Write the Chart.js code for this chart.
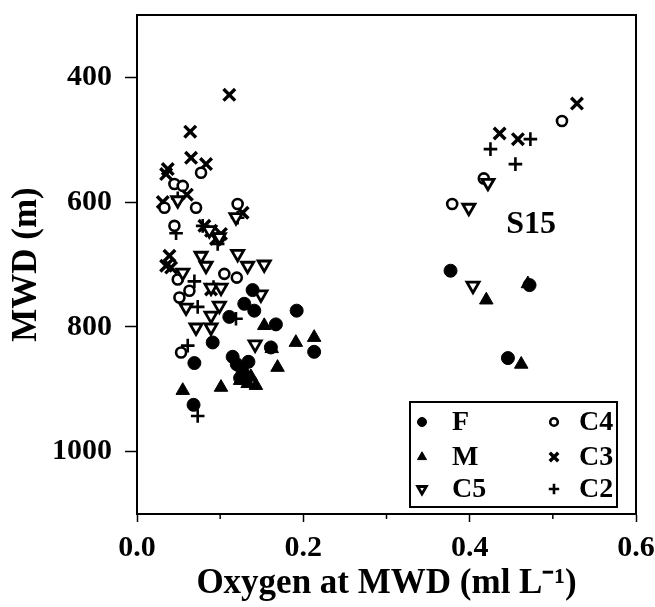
<!DOCTYPE html>
<html>
<head>
<meta charset="utf-8">
<title>MWD vs oxygen, S15</title>
<script src="https://cdn.jsdelivr.net/npm/chart.js@4.4.1/dist/chart.umd.min.js"></script>
<style>
  html, body { margin: 0; padding: 0; background: #fff; }
  #wrap { width: 655px; height: 607px; }
</style>
</head>
<body>
<div id="wrap"><canvas id="chart" width="655" height="607"></canvas></div>
<script>
// [oxygen (ml/L), mean weighted depth (m)] per stage
const stageF = [
  [0.069, 858], [0.091, 825], [0.111, 784], [0.129, 763], [0.139, 741],
  [0.141, 774], [0.167, 796], [0.192, 774], [0.213, 840], [0.161, 833],
  [0.068, 925], [0.115, 848], [0.120, 860], [0.127, 872], [0.124, 882],
  [0.134, 856], [0.131, 885], [0.377, 710], [0.472, 733], [0.446, 850]
];
const stageM = [
  [0.055, 902], [0.101, 897], [0.153, 798], [0.162, 835], [0.169, 865],
  [0.191, 825], [0.213, 817], [0.143, 894], [0.133, 891], [0.124, 886],
  [0.137, 880], [0.420, 757], [0.462, 860], [0.470, 731]
];
const stageC5 = [
  [0.049, 597], [0.087, 645], [0.099, 656], [0.119, 624], [0.121, 683],
  [0.133, 702], [0.153, 700], [0.149, 748], [0.077, 686], [0.083, 702],
  [0.055, 713], [0.089, 737], [0.101, 737], [0.059, 769], [0.099, 766],
  [0.089, 782], [0.071, 801], [0.089, 801], [0.142, 828], [0.399, 609],
  [0.422, 569], [0.404, 734]
];
const stageC4 = [
  [0.077, 553], [0.045, 571], [0.055, 574], [0.071, 609], [0.033, 609],
  [0.121, 603], [0.045, 638], [0.099, 657], [0.105, 715], [0.120, 721],
  [0.049, 724], [0.063, 742], [0.051, 753], [0.053, 841], [0.379, 603],
  [0.417, 562], [0.511, 470]
];
const stageC3 = [
  [0.111, 428], [0.064, 487], [0.065, 529], [0.083, 539], [0.037, 547],
  [0.035, 555], [0.031, 600], [0.060, 588], [0.127, 617], [0.081, 638],
  [0.089, 646], [0.101, 651], [0.095, 659], [0.039, 686], [0.035, 702],
  [0.041, 705], [0.089, 740], [0.436, 490], [0.458, 499], [0.529, 442]
];
const stageC2 = [
  [0.425, 515], [0.455, 539], [0.473, 499], [0.049, 594], [0.047, 650],
  [0.079, 638], [0.097, 667], [0.121, 625], [0.069, 727], [0.073, 768],
  [0.119, 787], [0.061, 830], [0.073, 943], [0.092, 736]
];

const xTicks = [0, 0.1, 0.2, 0.3, 0.4, 0.5, 0.6];
const yTicks = [400, 600, 800, 1000];
const stationLabel = { text: 'S15', x: 0.474, y: 637 };

const SERIF = '"Liberation Serif", "Times New Roman", serif';

const toPoints = (arr) => arr.map(([x, y]) => ({ x, y }));

// marker look for each stage (used by datasets and the legend box)
const styles = {
  F:  { pointStyle: 'circle',   radius: 6.5, rotation: 0,   fill: '#000', borderWidth: 1,   legendRadius: 4.5 },
  M:  { pointStyle: 'triangle', radius: 7.8, rotation: 0,   fill: '#000', borderWidth: 1,   legendRadius: 5.2 },
  C5: { pointStyle: 'triangle', radius: 7,   rotation: 180, fill: '#fff', borderWidth: 2.8, legendRadius: 5 },
  C4: { pointStyle: 'circle',   radius: 5,   rotation: 0,   fill: '#fff', borderWidth: 2.6, legendRadius: 3.8 },
  C3: { pointStyle: 'crossRot', radius: 8.2, rotation: 0,   fill: '#000', borderWidth: 3.4, legendRadius: 6 },
  C2: { pointStyle: 'cross',    radius: 6.8, rotation: 0,   fill: '#000', borderWidth: 2.6, legendRadius: 5.2 },
};

function makeSet(label, data) {
  const s = styles[label];
  return {
    label,
    data: toPoints(data),
    pointStyle: s.pointStyle,
    pointRadius: s.radius,
    pointHoverRadius: s.radius,
    rotation: s.rotation,
    backgroundColor: s.fill,
    borderColor: '#000',
    borderWidth: s.borderWidth,
    showLine: false,
  };
}

// keep tick-label overhang from pushing the plot area inward
function noOverhang(axis) {
  axis.paddingTop = 0;
  axis.paddingBottom = 0;
  axis.paddingLeft = 0;
  axis.paddingRight = 0;
}

// frame, minor ticks, station label and the boxed legend
const decorations = {
  id: 'decorations',
  afterDraw(chart) {
    const { ctx, chartArea: a, scales } = chart;
    ctx.save();

    ctx.strokeStyle = '#000';
    ctx.lineWidth = 2;
    ctx.strokeRect(a.left, a.top, a.right - a.left, a.bottom - a.top);

    // short ticks at the odd tenths
    ctx.lineWidth = 1.5;
    [0.1, 0.3, 0.5].forEach((v) => {
      const px = scales.x.getPixelForValue(v);
      ctx.beginPath();
      ctx.moveTo(px, a.bottom);
      ctx.lineTo(px, a.bottom + 5);
      ctx.stroke();
    });

    ctx.fillStyle = '#000';
    ctx.font = 'bold 32px ' + SERIF;
    ctx.textAlign = 'center';
    ctx.textBaseline = 'middle';
    ctx.fillText(stationLabel.text,
      scales.x.getPixelForValue(stationLabel.x),
      scales.y.getPixelForValue(stationLabel.y));

    // legend box
    const boxW = 207, boxH = 105;
    const bx = a.right - 19 - boxW;
    const by = a.bottom - 7 - boxH;
    ctx.fillStyle = '#fff';
    ctx.fillRect(bx, by, boxW, boxH);
    ctx.lineWidth = 2;
    ctx.strokeRect(bx, by, boxW, boxH);

    const cols = [['F', 'M', 'C5'], ['C4', 'C3', 'C2']];
    const colMarkX = [bx + 12, bx + 144];
    const colTextX = [bx + 42, bx + 169];
    const rowY = [by + 20, by + 55, by + 87];
    ctx.font = 'bold 28px ' + SERIF;
    ctx.textAlign = 'left';
    cols.forEach((col, ci) => {
      col.forEach((name, ri) => {
        const s = styles[name];
        ctx.fillStyle = s.fill;
        ctx.strokeStyle = '#000';
        ctx.lineWidth = s.borderWidth;
        Chart.helpers.drawPoint(ctx, {
          pointStyle: s.pointStyle,
          radius: s.legendRadius,
          rotation: s.rotation,
          borderWidth: s.borderWidth,
        }, colMarkX[ci], rowY[ri]);
        ctx.fillStyle = '#000';
        ctx.fillText(name, colTextX[ci], rowY[ri] + 1);
      });
    });

    ctx.restore();
  },
};

new Chart(document.getElementById('chart'), {
  type: 'scatter',
  data: {
    datasets: [
      makeSet('F', stageF),
      makeSet('M', stageM),
      makeSet('C5', stageC5),
      makeSet('C4', stageC4),
      makeSet('C3', stageC3),
      makeSet('C2', stageC2),
    ],
  },
  options: {
    responsive: false,
    animation: false,
    layout: { padding: { top: 15, right: 19, left: 0, bottom: 0 } },
    plugins: {
      legend: { display: false },
      tooltip: { enabled: false },
    },
    scales: {
      x: {
        type: 'linear',
        min: 0,
        max: 0.6,
        afterBuildTicks: (axis) => { axis.ticks = xTicks.map((v) => ({ value: v })); },
        afterFit: (axis) => { axis.height = 93; noOverhang(axis); },
        border: { color: '#000', width: 2 },
        grid: {
          drawOnChartArea: false,
          tickLength: 8,
          tickWidth: 1.5,
          tickColor: (ctx) => (Math.round(ctx.tick.value * 10) % 2 === 0 ? '#000' : 'rgba(0,0,0,0)'),
        },
        ticks: {
          autoSkip: false,
          maxRotation: 0,
          padding: 8,
          color: '#000',
          font: { family: SERIF, size: 30, weight: 'bold' },
          callback: (v) => (Math.round(v * 10) % 2 === 0 ? v.toFixed(1) : ''),
        },
        title: {
          display: true,
          text: 'Oxygen at MWD (ml L\u207B\u00B9)',
          color: '#000',
          font: { family: SERIF, size: 35, weight: 'bold' },
          padding: { top: 0, bottom: 2 },
        },
      },
      y: {
        type: 'linear',
        reverse: true,
        min: 300,
        max: 1100,
        afterBuildTicks: (axis) => { axis.ticks = yTicks.map((v) => ({ value: v })); },
        afterFit: (axis) => { axis.width = 137; noOverhang(axis); },
        border: { color: '#000', width: 2 },
        grid: {
          drawOnChartArea: false,
          tickLength: 12,
          tickWidth: 1.5,
          tickColor: '#000',
        },
        ticks: {
          padding: 13,
          color: '#000',
          font: { family: SERIF, size: 30, weight: 'bold' },
          callback: (v) => String(v),
        },
        title: {
          display: true,
          text: 'MWD (m)',
          color: '#000',
          font: { family: SERIF, size: 35, weight: 'bold' },
          padding: { top: 6, bottom: 0 },
        },
      },
    },
  },
  plugins: [decorations],
});
</script>
</body>
</html>
